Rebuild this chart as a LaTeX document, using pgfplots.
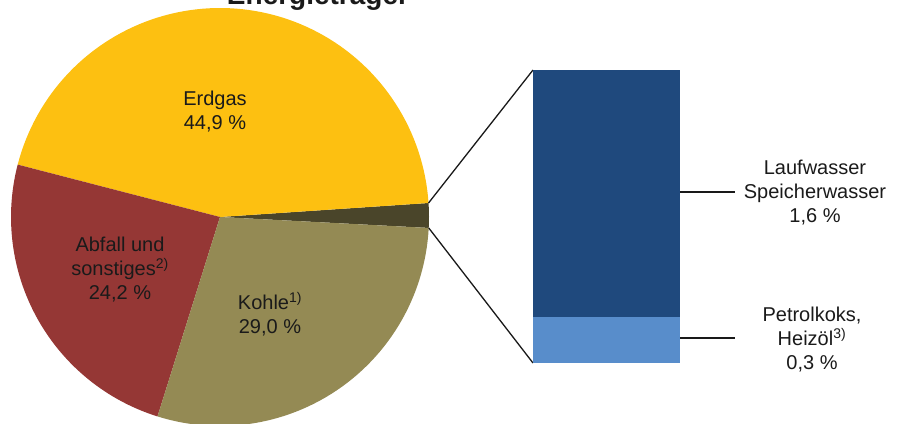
\documentclass[border=0pt]{standalone}
\usepackage{pgfplots}
\pgfplotsset{compat=1.18}
\usepackage{pgfplotstable}
\usepackage{fontspec}
\setmainfont{Liberation Sans}

\definecolor{cErdgas}{HTML}{FDC011}
\definecolor{cAbfall}{HTML}{953735}
\definecolor{cKohle}{HTML}{948A54}
\definecolor{cRest}{HTML}{4A452A}
\definecolor{cWasser}{HTML}{1F497D}
\definecolor{cPetrol}{HTML}{588DCB}
\definecolor{txt}{HTML}{1A1A1A}

\tikzset{lbl/.style={text=txt,font=\fontsize{20}{24}\selectfont,align=center,inner sep=0pt}}

\pgfplotstableread{
name value
Rest 1.9
Erdgas 44.9
Abfall 24.2
Kohle 29.0
}\piedata

\begin{document}
\begin{tikzpicture}
\pgfplotstablegetelem{0}{value}\of\piedata \let\vRest\pgfplotsretval
\pgfplotstablegetelem{1}{value}\of\piedata \let\vErdgas\pgfplotsretval
\pgfplotstablegetelem{2}{value}\of\piedata \let\vAbfall\pgfplotsretval
\pgfplotstablegetelem{3}{value}\of\piedata \let\vKohle\pgfplotsretval
% slice angles, counterclockwise from the small slice on the right
\pgfmathsetmacro\aA{-3.0}
\pgfmathsetmacro\aB{\aA+3.6*\vRest}
\pgfmathsetmacro\aC{\aB+3.6*\vErdgas}
\pgfmathsetmacro\aD{\aC+3.6*\vAbfall}
\pgfmathsetmacro\aE{\aD+3.6*\vKohle}
\def\cx{220}\def\cy{206}\def\rr{209}

\begin{axis}[
  at={(0,0)},anchor=south west,
  scale only axis,width=899pt,height=423pt,
  xmin=0,xmax=899,ymin=0,ymax=423,
  hide axis,clip=false
]
\addplot[fill=cRest,draw=none,domain=\aA:\aB,samples=10,variable=\t]
  ({\cx+\rr*cos(\t)},{\cy+\rr*sin(\t)}) -- (\cx,\cy) -- cycle;
\addplot[fill=cErdgas,draw=none,domain=\aB:\aC,samples=90,variable=\t]
  ({\cx+\rr*cos(\t)},{\cy+\rr*sin(\t)}) -- (\cx,\cy) -- cycle;
\addplot[fill=cAbfall,draw=none,domain=\aC:\aD,samples=60,variable=\t]
  ({\cx+\rr*cos(\t)},{\cy+\rr*sin(\t)}) -- (\cx,\cy) -- cycle;
\addplot[fill=cKohle,draw=none,domain=\aD:\aE,samples=60,variable=\t]
  ({\cx+\rr*cos(\t)},{\cy+\rr*sin(\t)}) -- (\cx,\cy) -- cycle;

% connectors to the bar
\draw[line width=1.3pt,black!90] ({\cx+\rr*cos(\aB)},{\cy+\rr*sin(\aB)}) -- (533,353);
\draw[line width=1.3pt,black!90] ({\cx+\rr*cos(\aA)},{\cy+\rr*sin(\aA)}) -- (533,60);
% leader lines
\draw[line width=1.1pt,black!90] (680,231) -- (735,231);
\draw[line width=1.1pt,black!90] (680,85) -- (735,85);

\node[lbl] at (215,311) {Erdgas\\44,9 \%};
\node[lbl] at (120,153) {Abfall und\\sonstiges\textsuperscript{2)}\\24,2 \%};
\node[lbl] at (270,109) {Kohle\textsuperscript{1)}\\29,0 \%};
\node[lbl] at (815,230) {Laufwasser\\Speicherwasser\\1,6 \%};
\node[lbl] at (812,83) {Petrolkoks,\\Heizöl\textsuperscript{3)}\\0,3 \%};
\node[lbl,anchor=base,font=\bfseries\fontsize{28}{32}\selectfont] at (318,418) {Energieträger};
\end{axis}

\begin{axis}[
  at={(533pt,60pt)},anchor=south west,
  scale only axis,width=147pt,height=293pt,
  hide axis,xmin=-0.5,xmax=0.5,ymin=0,ymax=1.9,
  ybar stacked,bar width=1
]
\addplot[fill=cPetrol,draw=none] coordinates {(0,0.3)};
\addplot[fill=cWasser,draw=none] coordinates {(0,1.6)};
\end{axis}

\pgfresetboundingbox
\useasboundingbox (0,0) rectangle (899pt,423pt);
\end{tikzpicture}
\end{document}
